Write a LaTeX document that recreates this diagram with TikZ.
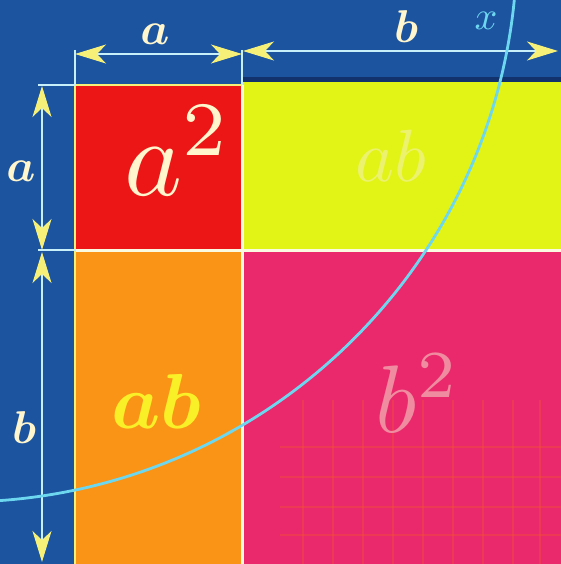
\documentclass[tikz,border=0pt]{standalone}
\usepackage{bm}
\usetikzlibrary{arrows.meta}
\definecolor{bgblue}{RGB}{28,84,160}
\definecolor{darkband}{RGB}{18,50,110}
\definecolor{cred}{RGB}{236,22,22}
\definecolor{cyellow}{RGB}{226,244,22}
\definecolor{corange}{RGB}{250,148,22}
\definecolor{cpink}{RGB}{234,40,108}
\definecolor{dimline}{RGB}{200,240,250}
\definecolor{arrowyellow}{RGB}{246,240,120}
\definecolor{curveblue}{RGB}{110,215,240}
\definecolor{labelcream}{RGB}{255,246,205}
\definecolor{sepwhite}{RGB}{250,250,225}
\definecolor{gridorange}{RGB}{245,90,40}
\begin{document}
\begin{tikzpicture}[x=1pt,y=-1pt,
  dimtip/.tip={Stealth[length=31pt,width=19pt,inset=9pt,color=arrowyellow,fill=arrowyellow]},
  dimarrow/.style={draw=dimline, line width=1.8pt, dimtip-dimtip},
  extline/.style={draw=dimline, line width=1.6pt},
  sepline/.style={draw=sepwhite, line width=3pt},
  dimlabel/.style={text=labelcream, scale=4.6, inner sep=0pt, anchor=base},
  biglabel/.style={inner sep=0pt, anchor=base west}]
\useasboundingbox (0,0) rectangle (561,564);
\clip (0,0) rectangle (561,564);
% background and cells
\fill[bgblue] (0,0) rectangle (561,564);
\fill[darkband] (242,77) rectangle (561,83);
\fill[cred] (75,85) rectangle (242,250);
\fill[cyellow] (242,82) rectangle (561,250);
\fill[corange] (75,250) rectangle (242,564);
\fill[cpink] (242,250) rectangle (561,564);
% faint grid texture in b^2
\begin{scope}[draw=gridorange, line width=1.2pt, opacity=0.35]
  \foreach \gx in {303,333,363,393,423,453,483,513,540} \draw (\gx,400) -- (\gx,564);
  \foreach \gy in {447,477,507,535} \draw (280,\gy) -- (561,\gy);
\end{scope}
% coordinates
\coordinate (TL) at (75,85);
\coordinate (TM) at (242,85);
\coordinate (ML) at (75,250);
\coordinate (MM) at (242,250);
\coordinate (MR) at (561,250);
\coordinate (BM) at (242,564);
\coordinate (BL) at (75,564);
\coordinate (eTL) at (75,50);
\coordinate (eTM) at (242,50);
\coordinate (eLT) at (38,85);
\coordinate (eLM) at (38,250);
% separators
\draw[sepline] (ML) -- (MR);
\draw[sepline] (TM) -- (BM);
\draw[draw=arrowyellow, line width=2pt] (TL) -- (BL);
\draw[draw=arrowyellow, line width=2pt] (TL) -- (TM);
% extension lines
\draw[extline] (eTL) -- (TL);
\draw[extline] (eTM) -- (TM);
\draw[extline] (eLT) -- (TL);
\draw[extline] (eLM) -- (ML);
% dimension arrows
\coordinate (da1) at (75,54);
\coordinate (da2) at (242,54);
\coordinate (db1) at (243,51);
\coordinate (db2) at (558,51);
\coordinate (la1) at (42,86);
\coordinate (la2) at (42,250);
\coordinate (lb1) at (42,252);
\coordinate (lb2) at (42,562);
\draw[dimarrow] (da1) -- (da2);
\draw[dimarrow] (db1) -- (db2);
\draw[dimarrow] (la1) -- (la2);
\draw[dimarrow] (lb1) -- (lb2);
% dimension labels
\node[dimlabel] (ta) at (155,45) {$\bm{a}$};
\node[dimlabel] (tb) at (406,43) {$\bm{b}$};
\node[dimlabel] (lfa) at (21,182) {$\bm{a}$};
\node[dimlabel] (lfb) at (24,443) {$\bm{b}$};
% curve: circular arc
\coordinate (arcC) at (-40,-55);
\draw[curveblue, line width=2.8pt] ([shift={(89:557)}]arcC) arc[start angle=89, end angle=2, radius=557];
\node[text=curveblue, scale=4, inner sep=0pt, anchor=base] (xlab) at (486,30) {$x$};
% area labels
\node[biglabel, text=labelcream, scale=11] (asq) at (122,195) {$a^2$};
\node[biglabel, text={rgb,255:red,236;green,242;blue,110}, scale=7.4] (abtop) at (354,182) {$ab$};
\node[biglabel, text={rgb,255:red,250;green,240;blue,40}, scale=7.8] (abbot) at (110,428) {$\bm{ab}$};
\node[biglabel, text={rgb,255:red,240;green,140;blue,160}, scale=9.6] (bsq) at (374,432) {$b^2$};
\end{tikzpicture}
\end{document}
